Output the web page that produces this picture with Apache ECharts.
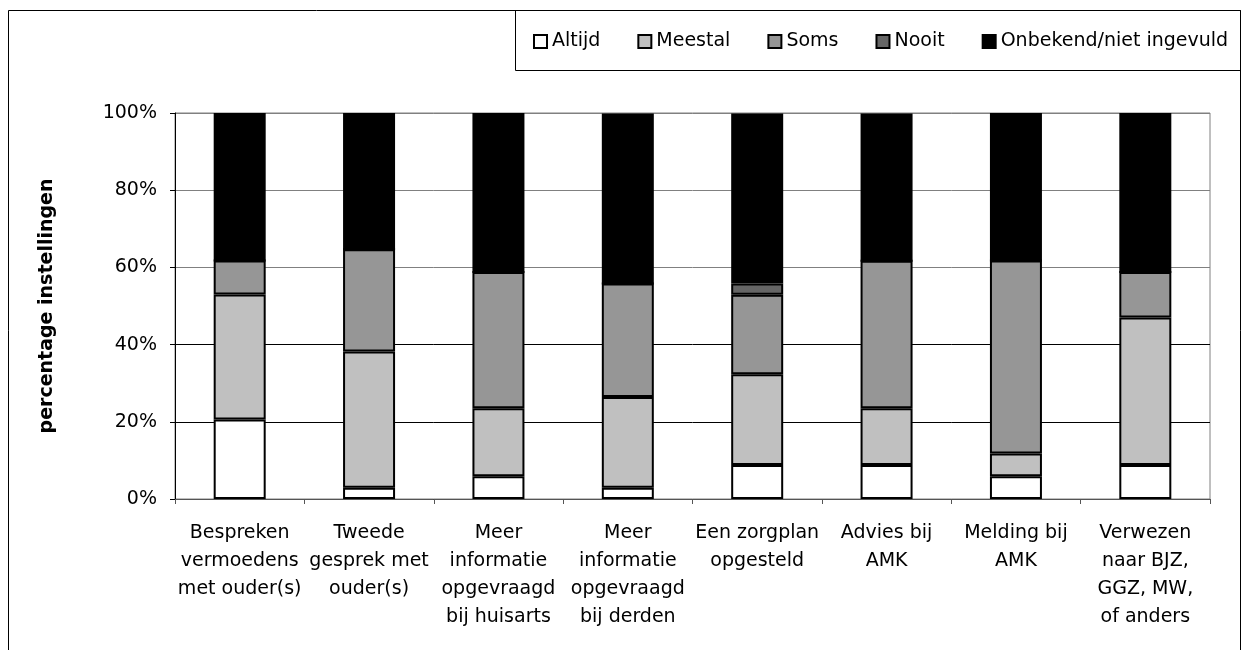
<!DOCTYPE html>
<html>
<head>
<meta charset="utf-8">
<script src="https://cdn.jsdelivr.net/npm/echarts@6/dist/echarts.min.js"></script>
<style>
html,body{margin:0;padding:0;background:#fff;}
#chart{width:1243px;height:650px;}
</style>
</head>
<body>
<div id="chart"></div>
<script>
var categories = [
  "Bespreken\nvermoedens\nmet ouder(s)",
  "Tweede\ngesprek met\nouder(s)",
  "Meer\ninformatie\nopgevraagd\nbij huisarts",
  "Meer\ninformatie\nopgevraagd\nbij derden",
  "Een zorgplan\nopgesteld",
  "Advies bij\nAMK",
  "Melding bij\nAMK",
  "Verwezen\nnaar BJZ,\nGGZ, MW,\nof anders"
];
var seriesNames = ["Altijd", "Meestal", "Soms", "Nooit", "Onbekend/niet ingevuld"];
var altijd   = [20.6, 2.9, 5.9, 2.9, 8.8, 8.8, 5.9, 8.8];
var meestal  = [32.4, 35.3, 17.6, 23.5, 23.5, 14.7, 5.9, 38.2];
var soms     = [8.8, 26.5, 35.3, 29.4, 20.6, 38.2, 50.0, 11.8];
var nooit    = [0, 0, 0, 0, 2.9, 0, 0, 0];
var onbekend = [38.2, 35.3, 41.2, 44.1, 44.1, 38.2, 38.2, 41.2];
var yTicks = [0, 20, 40, 60, 80, 100];

var colors = ["#ffffff", "#c0c0c0", "#969696", "#666666", "#000000"];
var allData = [altijd, meestal, soms, nooit, onbekend];
var FONT = "DejaVu Sans";

var series = seriesNames.map(function (name, i) {
  return {
    name: name,
    type: "bar",
    stack: "total",
    barWidth: 52,
    data: allData[i],
    itemStyle: { color: colors[i], borderColor: "#000", borderWidth: 2 }
  };
});

var chart = echarts.init(document.getElementById("chart"), null, { renderer: "canvas" });
chart.setOption({
  animation: false,
  backgroundColor: "#fff",
  textStyle: { fontFamily: FONT, color: "#000" },
  graphic: [
    { type: "rect", shape: { x: 8.5, y: 10.5, width: 1232, height: 700 },
      style: { fill: null, stroke: "#000", lineWidth: 1 }, z: -1 },
    { type: "rect", shape: { x: 515.5, y: 10.5, width: 725, height: 60 },
      style: { fill: null, stroke: "#000", lineWidth: 1 }, z: -1 }
  ],
  legend: {
    left: 533,
    top: 32,
    width: 705,
    orient: "horizontal",
    padding: 0,
    itemWidth: 13,
    itemHeight: 13,
    itemGap: 37,
    icon: "rect",
    textStyle: { fontFamily: FONT, fontSize: 19, color: "#000" },
    data: seriesNames
  },
  grid: {
    left: 175, right: 33, top: 113, bottom: 151,
    show: true, borderColor: "#808080", borderWidth: 1, backgroundColor: "transparent"
  },
  xAxis: {
    type: "category",
    data: categories,
    axisLine: { show: true, lineStyle: { color: "#555", width: 1 } },
    axisTick: { show: true, length: 5, alignWithLabel: false, lineStyle: { color: "#555" } },
    axisLabel: {
      interval: 0, margin: 20, fontFamily: FONT, fontSize: 19, lineHeight: 28,
      color: "#000", align: "center"
    }
  },
  yAxis: {
    type: "value",
    min: yTicks[0], max: yTicks[yTicks.length - 1], interval: 20,
    name: "percentage instellingen",
    nameLocation: "middle",
    nameGap: 118,
    nameRotate: 90,
    nameTextStyle: { fontFamily: FONT, fontSize: 19, fontWeight: "bold", color: "#000" },
    axisLine: { show: true, lineStyle: { color: "#000", width: 1 } },
    axisTick: { show: true, length: 5, lineStyle: { color: "#000" } },
    axisLabel: { margin: 18, fontFamily: FONT, fontSize: 19, color: "#000", formatter: "{value}%" },
    splitLine: { show: true, lineStyle: { color: ["#000", "#000", "#000", "#808080", "#808080", "#808080"], width: 1 } }
  },
  series: series
});
</script>
</body>
</html>
